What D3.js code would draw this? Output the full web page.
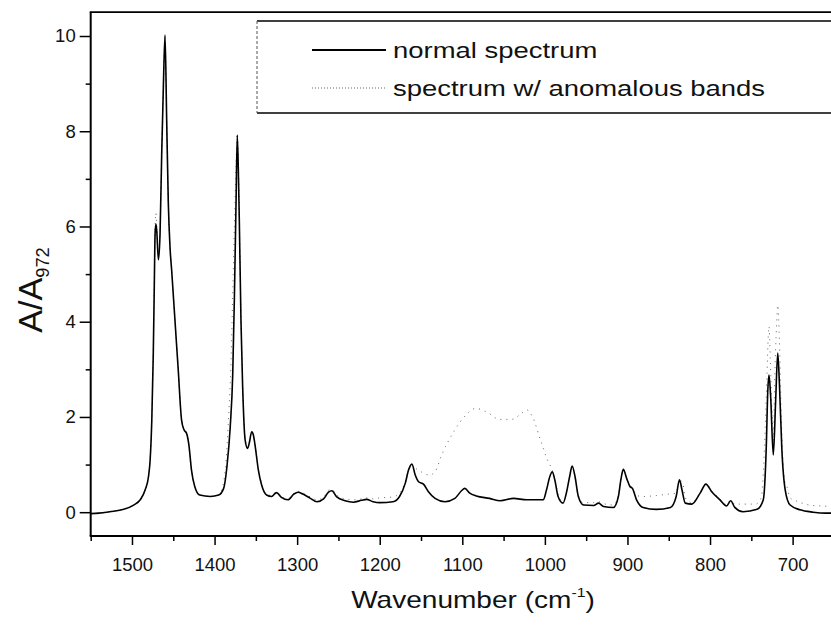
<!DOCTYPE html>
<html><head><meta charset="utf-8">
<script src="https://cdn.jsdelivr.net/npm/d3@7"></script>
<style>
body{margin:0;background:#fff}
svg{display:block}
text{font-family:"Liberation Sans",Arial,Helvetica,sans-serif;fill:#111}
</style>
</head><body>
<svg id="c" width="831" height="627"></svg>
<script>
// ---- data ----
const normalWn = [1550,1540,1527,1510,1498,1490,1484,1480,1478,1476,1474.2,1473,1472,1471,1470,1468,1466,1464,1462,1460,1458,1456,1454,1452,1448,1444,1440,1437,1434,1431,1428,1424,1418,1405,1395,1389,1385,1381,1378,1376,1374,1372.5,1371,1370,1368,1366,1363,1360,1358,1355,1353,1351,1347,1343,1337,1331,1325,1319,1311,1304,1299,1293,1284,1276,1268,1262,1258,1252,1242,1232,1222,1216,1208,1200,1184,1176,1169,1165,1161,1157,1153,1147,1141,1133,1121,1109,1101,1097,1091,1083,1067,1054,1038,1022,1002,998,994,991,988,984,978,974,970,967,963.5,959.5,953,941,935,929,917,911,908,905,901,897,894,889,881,865,848,841,837,834,830,822,812,805,798,788,780,775,770,760,743,735.5,732,730,728.6,726.6,723.4,720.5,718,716,713,709,703,691,675,660,650];
const normalA = [-0.03,-0.02,0.01,0.06,0.15,0.26,0.47,0.75,1.10,1.94,3.34,4.74,5.86,6.05,5.9,5.30,5.86,7.54,8.94,10.02,8.24,6.49,5.58,5.09,4.04,2.99,1.94,1.73,1.66,1.40,0.89,0.54,0.36,0.33,0.36,0.50,0.96,1.8,2.9,4.5,6.5,7.92,7.0,6.1,4.0,2.64,1.52,1.34,1.45,1.69,1.62,1.41,0.89,0.57,0.36,0.33,0.41,0.31,0.26,0.38,0.42,0.38,0.29,0.22,0.28,0.42,0.45,0.32,0.24,0.21,0.25,0.27,0.22,0.20,0.22,0.33,0.61,0.89,1.01,0.78,0.64,0.59,0.43,0.29,0.22,0.29,0.45,0.50,0.40,0.34,0.29,0.24,0.29,0.26,0.26,0.47,0.75,0.85,0.68,0.33,0.19,0.40,0.75,0.97,0.75,0.33,0.15,0.14,0.19,0.12,0.10,0.33,0.68,0.90,0.71,0.54,0.50,0.26,0.10,0.06,0.10,0.33,0.68,0.47,0.19,0.17,0.40,0.59,0.43,0.26,0.13,0.24,0.10,0.01,0.06,0.26,1.31,2.57,2.88,2.43,1.20,2.36,3.34,2.71,1.31,0.47,0.15,0.05,0.0,-0.02,-0.02];

const anomWn = [1550,1540,1527,1510,1498,1490,1484,1480,1478,1476,1474.2,1473,1472,1471,1470,1468,1466,1464,1462,1460,1458,1456,1454,1452,1448,1444,1440,1437,1434,1431,1428,1424,1418,1405,1395,1390,1386,1383,1380,1378,1376,1374,1372.5,1371,1370,1368,1366,1363,1360,1358,1355,1353,1351,1347,1343,1337,1331,1325,1319,1311,1304,1299,1293,1284,1276,1268,1262,1258,1252,1242,1232,1222,1216,1208,1200,1184,1176,1169,1165,1161,1157,1150,1140,1133,1125,1110,1095,1084,1070,1055,1040,1030,1022,1015,1005,997,991,988,984,978,974,970,967,963.5,959.5,953,941,935,929,917,911,908,905,901,897,894,889,881,865,850,841,837,833,830,822,812,805,798,788,780,775,770,760,745,738,734,731,729.5,728.6,727,724.5,723.4,721.5,719.5,718,716,713,709,707,703,693,680,665,650];
const anomA = [-0.03,-0.02,0.01,0.06,0.15,0.26,0.47,0.75,1.10,1.94,3.4,4.9,6.0,6.28,6.0,5.4,5.9,7.54,8.94,10.02,8.24,6.49,5.58,5.09,4.04,2.99,1.94,1.73,1.66,1.40,0.89,0.54,0.36,0.33,0.36,0.55,1.1,2.0,3.2,4.6,6.0,7.3,7.95,7.2,6.2,4.1,2.7,1.55,1.36,1.47,1.69,1.62,1.43,0.92,0.60,0.38,0.35,0.43,0.33,0.28,0.40,0.44,0.40,0.32,0.26,0.32,0.46,0.48,0.36,0.28,0.26,0.28,0.30,0.28,0.30,0.32,0.40,0.65,0.90,1.00,0.93,0.85,0.78,0.85,1.2,1.7,2.05,2.18,2.1,1.95,1.95,2.05,2.15,2.0,1.5,1.1,0.88,0.70,0.38,0.22,0.40,0.75,0.97,0.75,0.35,0.20,0.20,0.22,0.18,0.15,0.35,0.68,0.90,0.73,0.56,0.52,0.35,0.33,0.35,0.38,0.40,0.68,0.60,0.30,0.20,0.42,0.60,0.45,0.28,0.16,0.25,0.17,0.17,0.17,0.30,1.4,2.9,3.7,3.9,3.2,1.9,1.5,2.9,3.9,4.35,3.6,1.6,0.6,0.54,0.30,0.22,0.15,0.13,0.12];

const xTicks = [1500,1400,1300,1200,1100,1000,900,800,700];
const xMinorTicks = [1550,1450,1350,1250,1150,1050,950,850,750];
const yTicks = [0,2,4,6,8,10];
const yMinorTicks = [1,3,5,7,9];
const legendLabels = ["normal spectrum","spectrum w/ anomalous bands"];

// ---- chart ----
const svg = d3.select("#c");
const L = 90.7, R = 833.9, T = 12.2, B = 536;
const x = d3.scaleLinear().domain([1550,650]).range([L,R]);
const y = d3.scaleLinear().domain([-0.5,10.5]).range([B,T]);

const normal = normalWn.map((w,i)=>({w, a: normalA[i]}));
const anom = anomWn.map((w,i)=>({w, a: anomA[i]}));
const line = d3.line().x(d=>x(d.w)).y(d=>y(d.a)).curve(d3.curveMonotoneX);

svg.append("clipPath").attr("id","plotclip")
  .append("rect").attr("x",L).attr("y",T).attr("width",R-L).attr("height",B-T);

const plot = svg.append("g").attr("clip-path","url(#plotclip)");
plot.append("path").datum(anom).attr("d",line)
  .attr("fill","none").attr("stroke","#666").attr("stroke-width",1)
  .attr("stroke-dasharray","1,5");
plot.append("path").datum(normal).attr("d",line)
  .attr("fill","none").attr("stroke","#000").attr("stroke-width",1.6)
  .attr("stroke-linejoin","round");

// axes
const fs = 18.5;
const xAxis = d3.axisBottom(x).tickValues(xTicks).tickSize(9).tickPadding(13).tickFormat(d3.format("d"));
const gx = svg.append("g").attr("transform",`translate(0,${B})`).call(xAxis);
const gxm = svg.append("g").attr("transform",`translate(0,${B})`)
  .call(d3.axisBottom(x).tickValues(xMinorTicks).tickSize(5).tickFormat(""));
const yAxis = d3.axisLeft(y).tickValues(yTicks).tickSize(11).tickPadding(4).tickFormat(d3.format("d"));
const gy = svg.append("g").attr("transform",`translate(${L},0)`).call(yAxis);
const gym = svg.append("g").attr("transform",`translate(${L},0)`)
  .call(d3.axisLeft(y).tickValues(yMinorTicks).tickSize(5).tickFormat(""));
[gx,gxm,gy,gym].forEach(g=>{
  g.select(".domain").remove();
  g.selectAll(".tick line").attr("stroke","#000").attr("stroke-width",1.5);
  g.selectAll("text").attr("font-size",fs).attr("font-family","'Liberation Sans',Arial,sans-serif").attr("fill","#111");
});

// frame lines
svg.append("line").attr("x1",L).attr("x2",L).attr("y1",T).attr("y2",B).attr("stroke","#000").attr("stroke-width",2);
svg.append("line").attr("x1",L-1).attr("x2",831).attr("y1",B).attr("y2",B).attr("stroke","#000").attr("stroke-width",2.2);
svg.append("line").attr("x1",L-1).attr("x2",831).attr("y1",T).attr("y2",T).attr("stroke","#000").attr("stroke-width",1.8);

// axis titles
const xt = svg.append("text").attr("transform","translate(473,608) scale(1.22,1)")
  .attr("text-anchor","middle").attr("font-size",23);
xt.append("tspan").text("Wavenumber (cm");
xt.append("tspan").attr("font-size",13).attr("dy",-11).text("-1");
xt.append("tspan").attr("dy",11).text(")");

const yt = svg.append("text").attr("transform","translate(42,290) rotate(-90) scale(1.22,1.2)")
  .attr("text-anchor","middle").attr("font-size",28);
yt.append("tspan").text("A/A");
yt.append("tspan").attr("font-size",15).attr("dy",6).text("972");

// legend
const lg = svg.append("g");
const lt = 21, lb = 113, ll = 257;
lg.append("rect").attr("x",ll).attr("y",lt).attr("width",600).attr("height",lb-lt).attr("fill","#fff").attr("stroke","none");
lg.append("line").attr("x1",ll).attr("x2",831).attr("y1",lt).attr("y2",lt).attr("stroke","#000").attr("stroke-width",1.6);
lg.append("line").attr("x1",ll).attr("x2",831).attr("y1",lb).attr("y2",lb).attr("stroke","#000").attr("stroke-width",1.6);
lg.append("line").attr("x1",ll).attr("x2",ll).attr("y1",lt).attr("y2",lb).attr("stroke","#555").attr("stroke-width",1).attr("stroke-dasharray","3,2");
const rows = [{y:50, dash:null, w:1.8, c:"#000"},{y:88, dash:"1,2", w:1.1, c:"#666"}];
rows.forEach((r,i)=>{
  const ln = lg.append("line").attr("x1",312).attr("x2",386).attr("y1",r.y).attr("y2",r.y)
    .attr("stroke",r.c).attr("stroke-width",r.w);
  if(r.dash) ln.attr("stroke-dasharray",r.dash);
  lg.append("text").attr("transform",`translate(393,${r.y+8}) scale(1.22,1)`)
    .attr("font-size",22.5).text(legendLabels[i]);
});
</script>
</body></html>
